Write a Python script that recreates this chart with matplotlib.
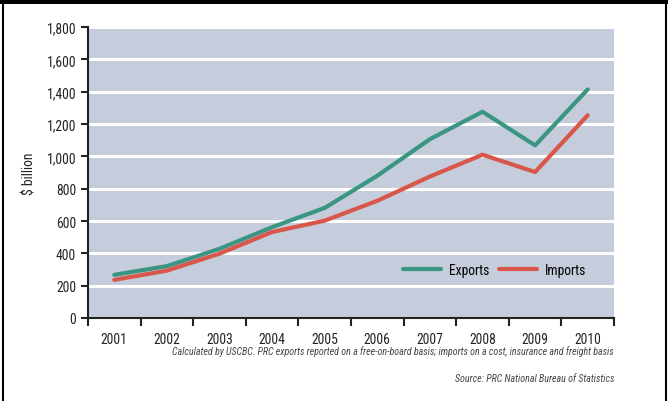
import matplotlib.pyplot as plt
from matplotlib.lines import Line2D
from matplotlib.patches import Rectangle
from matplotlib.ticker import FuncFormatter
import numpy as np

years = ['2001', '2002', '2003', '2004', '2005', '2006', '2007', '2008', '2009', '2010']
exports = [267, 321, 428, 562, 681, 880, 1106, 1276, 1068, 1414]
imports = [236, 293, 398, 532, 602, 725, 875, 1010, 903, 1254]

plt.rcParams['font.family'] = ['Roboto Condensed', 'DejaVu Sans']

fig = plt.figure(figsize=(6.68, 4.02), dpi=100)
ax = fig.add_axes([88 / 668, 1 - 319 / 402, 526 / 668, 291 / 402])

# page frame
fig.add_artist(Rectangle((0, 1 - 5 / 402), 1, 5 / 402, transform=fig.transFigure,
                         color='black', lw=0))
fig.add_artist(Line2D([3 / 668, 3 / 668], [0, 1], transform=fig.transFigure,
                      color='black', lw=1.5))
fig.add_artist(Line2D([666 / 668, 666 / 668], [0, 1], transform=fig.transFigure,
                      color='black', lw=1.5))

x = np.arange(len(years))
ax.set_facecolor('#c5ccdb')
ax.plot(x, exports, color='#3a9683', lw=3.0, solid_capstyle='round', label='Exports', zorder=3)
ax.plot(x, imports, color='#d9574a', lw=3.0, solid_capstyle='round', label='Imports', zorder=3)

ax.set_xlim(-0.5, len(years) - 0.5)
ax.set_ylim(0, 1800)
ax.set_yticks(np.arange(0, 1801, 200))
ax.yaxis.set_major_formatter(FuncFormatter(lambda v, p: '{:,.0f}'.format(v)))
ax.set_xticks(np.arange(-0.5, len(years), 1.0))
ax.set_xticklabels([])
ax.set_xticks(x, minor=True)
ax.set_xticklabels(years, minor=True)
ax.tick_params(axis='x', which='minor', length=0, pad=10, labelsize=9.8, colors='#222222')
ax.tick_params(axis='x', which='major', length=6, width=1.5, color='#222222')
ax.tick_params(axis='y', length=5, width=1.5, color='#222222', labelsize=9.8, labelcolor='#222222')

ax.yaxis.grid(True, color='white', lw=2.2)
ax.set_axisbelow(True)
for s in ['top', 'right']:
    ax.spines[s].set_visible(False)
for s in ['left', 'bottom']:
    ax.spines[s].set_linewidth(1.5)
    ax.spines[s].set_color('#222222')

ax.set_ylabel('$ billion', fontsize=9.8, color='#222222', labelpad=7)

ax.legend(loc='center', bbox_to_anchor=(0.773, 0.165), ncol=2, frameon=False,
          handlelength=2.8, columnspacing=0.7, handletextpad=0.6, fontsize=9.8)

fig.text(614 / 668, 1 - 352 / 402,
         'Calculated by USCBC. PRC exports reported on a free-on-board basis; imports on a cost, insurance and freight basis',
         ha='right', va='center', fontsize=7.2, style='italic', color='#444444')
fig.text(614 / 668, 1 - 379 / 402, 'Source: PRC National Bureau of Statistics',
         ha='right', va='center', fontsize=7.2, style='italic', color='#444444')

fig.savefig('out.png', dpi=100)
